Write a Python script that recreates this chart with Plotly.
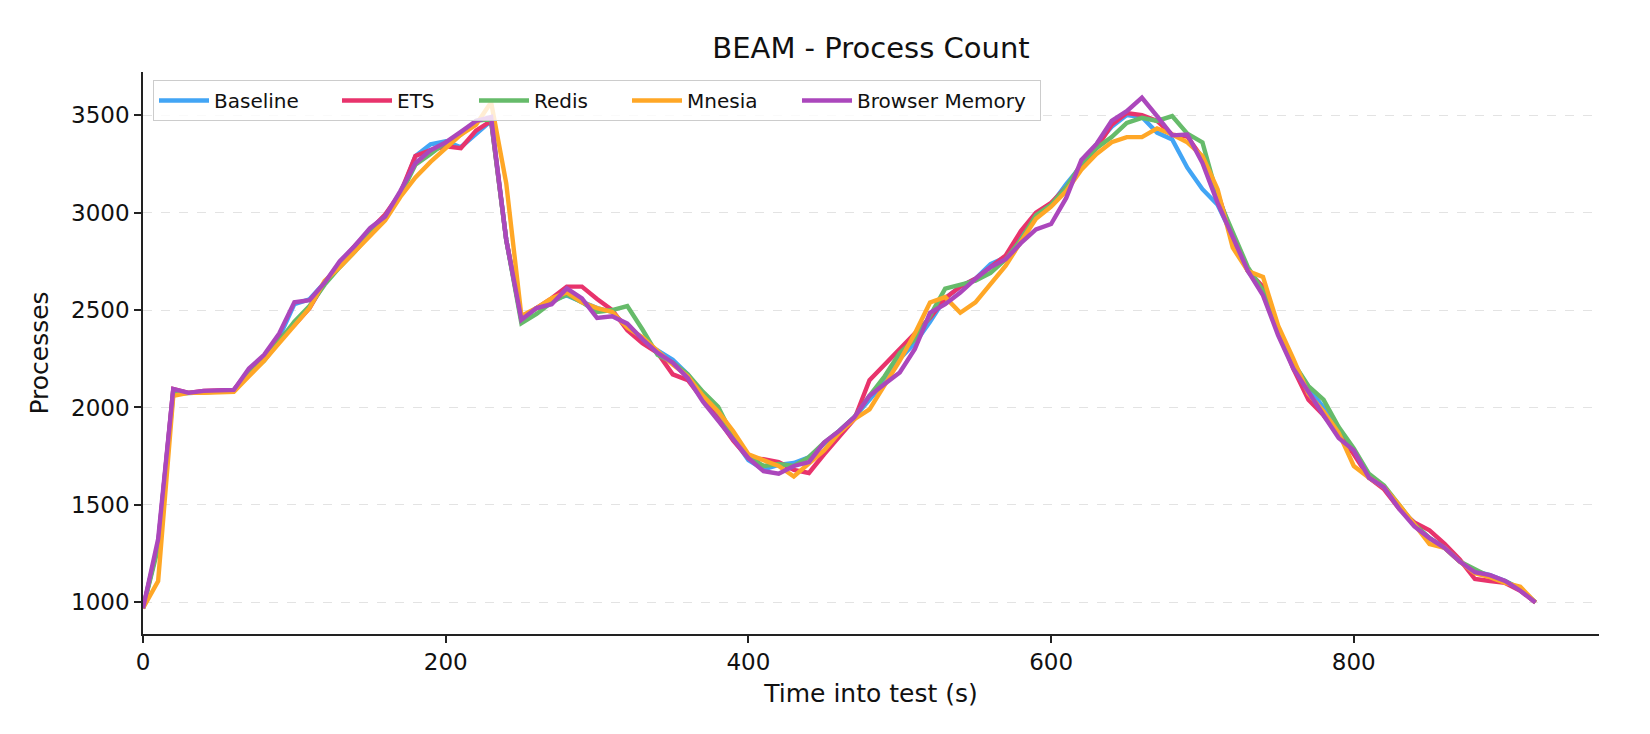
import plotly.graph_objects as go

# time into test (s), sampled every 10 s
time_s = list(range(0, 930, 10))

baseline = [970, 1300, 2090, 2075, 2080, 2085, 2090, 2180, 2260, 2360,
            2530, 2555, 2640, 2730, 2810, 2905, 2975, 3090, 3290, 3350,
            3365, 3335, 3400, 3470, 2860, 2450, 2510, 2550, 2575, 2545,
            2510, 2490, 2410, 2340, 2290, 2245, 2170, 2060, 1975, 1840,
            1730, 1682, 1705, 1715, 1745, 1810, 1880, 1950, 2040, 2130,
            2250, 2330, 2440, 2560, 2620, 2660, 2736, 2770, 2878, 2980,
            3040, 3146, 3240, 3350, 3440, 3500, 3490, 3410, 3375, 3230,
            3120, 3040, 2880, 2700, 2600, 2380, 2230, 2100, 2000, 1870,
            1780, 1640, 1590, 1490, 1400, 1330, 1280, 1210, 1160, 1140,
            1110, 1070, 1000]

ets = [970, 1300, 2095, 2075, 2085, 2085, 2090, 2190, 2250, 2350,
       2423, 2510, 2640, 2740, 2830, 2910, 2990, 3100, 3290, 3320,
       3340, 3330, 3420, 3470, 2860, 2460, 2510, 2560, 2620, 2620,
       2557, 2500, 2396, 2330, 2280, 2170, 2140, 2040, 1940, 1830,
       1740, 1735, 1720, 1680, 1664, 1760, 1850, 1940, 2140, 2220,
       2300, 2380, 2460, 2560, 2620, 2660, 2720, 2780, 2905, 3000,
       3050, 3129, 3240, 3330, 3450, 3510, 3500, 3470, 3400, 3390,
       3280, 3100, 2870, 2700, 2620, 2400, 2200, 2040, 1960, 1860,
       1760, 1640, 1580, 1480, 1410, 1370, 1300, 1220, 1120, 1110,
       1100, 1060, 1000]

redis = [970, 1280, 2070, 2075, 2080, 2080, 2085, 2170, 2240, 2340,
         2440, 2520, 2630, 2720, 2800, 2890, 2980, 3090, 3245, 3300,
         3360, 3400, 3470, 3480, 2860, 2432, 2480, 2540, 2580, 2540,
         2490, 2500, 2520, 2400, 2270, 2230, 2170, 2080, 2003, 1850,
         1750, 1700, 1710, 1700, 1745, 1820, 1880, 1950, 2060, 2160,
         2280, 2350, 2470, 2610, 2628, 2650, 2690, 2760, 2860, 2986,
         3040, 3130, 3250, 3330, 3387, 3460, 3486, 3470, 3495, 3405,
         3360, 3080, 2900, 2720, 2600, 2390, 2230, 2110, 2040, 1900,
         1790, 1660, 1600, 1500, 1400, 1330, 1280, 1210, 1170, 1130,
         1110, 1070, 1000]

mnesia = [970, 1110, 2060, 2075, 2075, 2080, 2080, 2160, 2240, 2330,
          2420, 2510, 2650, 2720, 2800, 2880, 2960, 3080, 3180, 3260,
          3330, 3400, 3450, 3566, 3150, 2470, 2510, 2560, 2590, 2540,
          2510, 2490, 2410, 2360, 2290, 2220, 2160, 2060, 1980, 1878,
          1760, 1730, 1700, 1646, 1710, 1780, 1870, 1940, 1990, 2110,
          2240, 2380, 2539, 2566, 2486, 2539, 2637, 2727, 2850, 2968,
          3030, 3110, 3220, 3300, 3361, 3387, 3387, 3432, 3400, 3360,
          3290, 3120, 2820, 2700, 2670, 2420, 2250, 2070, 1980, 1870,
          1700, 1640, 1590, 1500, 1400, 1300, 1280, 1210, 1150, 1130,
          1100, 1080, 1000]

browser_memory = [970, 1325, 2095, 2075, 2085, 2085, 2090, 2200, 2270, 2380,
                  2540, 2550, 2640, 2750, 2830, 2920, 2980, 3110, 3253, 3320,
                  3360, 3414, 3470, 3490, 2860, 2450, 2510, 2530, 2611, 2560,
                  2459, 2468, 2430, 2350, 2280, 2230, 2150, 2030, 1932, 1840,
                  1740, 1673, 1660, 1700, 1720, 1820, 1880, 1950, 2060, 2120,
                  2180, 2300, 2486, 2530, 2590, 2660, 2720, 2760, 2843, 2914,
                  2941, 3075, 3270, 3352, 3470, 3520, 3589, 3495, 3396, 3400,
                  3254, 3050, 2880, 2700, 2575, 2370, 2200, 2075, 1960, 1843,
                  1780, 1640, 1590, 1480, 1390, 1330, 1280, 1210, 1155, 1140,
                  1110, 1060, 1000]

series_names = ["Baseline", "ETS", "Redis", "Mnesia", "Browser Memory"]
series_values = [baseline, ets, redis, mnesia, browser_memory]
colors = ["#42A5F5", "#E8336C", "#66BB6A", "#FFA726", "#AB47BC"]
legend_widths = [118, 72, 88, 105, 178]

x_ticks = [0, 200, 400, 600, 800]
y_ticks = [1000, 1500, 2000, 2500, 3000, 3500]

FONT = "DejaVu Sans"

fig = go.Figure()
for name, vals, col, lw in zip(series_names, series_values, colors, legend_widths):
    fig.add_trace(go.Scatter(
        x=time_s, y=vals, mode="lines", name=name,
        line=dict(color=col, width=4.4),
        legendwidth=lw,
    ))

W, H = 1650, 734
L, R, T, B = 143, 51, 72, 100
pw = W - L - R
ph = H - T - B

fig.update_layout(
    width=W, height=H,
    margin=dict(l=L, r=R, t=T, b=B, pad=0),
    paper_bgcolor="white", plot_bgcolor="white",
    font=dict(family=FONT, color="#111111"),
    title=dict(text="BEAM - Process Count", x=(L + pw / 2) / W, xanchor="center",
               y=1 - 48 / H, yanchor="middle", yref="container",
               font=dict(size=29, family=FONT, color="#111111")),
    showlegend=True,
    legend=dict(
        orientation="h",
        x=(153 - L) / pw, xanchor="left",
        y=1 - (80 - T) / ph, yanchor="top",
        bgcolor="rgba(255,255,255,0.8)",
        bordercolor="#cccccc", borderwidth=1,
        font=dict(size=20, family=FONT, color="#111111"),
        itemwidth=50,
    ),
    xaxis=dict(
        range=[0, 962], tickvals=x_ticks, ticks="outside", ticklen=7, tickwidth=1.5,
        tickcolor="#222222", showline=True, linecolor="#222222", linewidth=1.6,
        showgrid=False, zeroline=False,
        tickfont=dict(size=23, family=FONT, color="#111111"),
        title=dict(text="Time into test (s)", font=dict(size=25, family=FONT, color="#111111"),
                   standoff=10),
    ),
    yaxis=dict(
        range=[838, 3721], tickvals=y_ticks, ticks="outside", ticklen=7, tickwidth=1.5,
        tickcolor="#222222", showline=True, linecolor="#222222", linewidth=1.6,
        showgrid=True, gridcolor="#e3e3e3", griddash="dash", gridwidth=1.2,
        zeroline=False,
        tickfont=dict(size=23, family=FONT, color="#111111"),
        title=dict(text="Processes", font=dict(size=25, family=FONT, color="#111111"),
                   standoff=15),
    ),
)

fig.write_html("out.html")
